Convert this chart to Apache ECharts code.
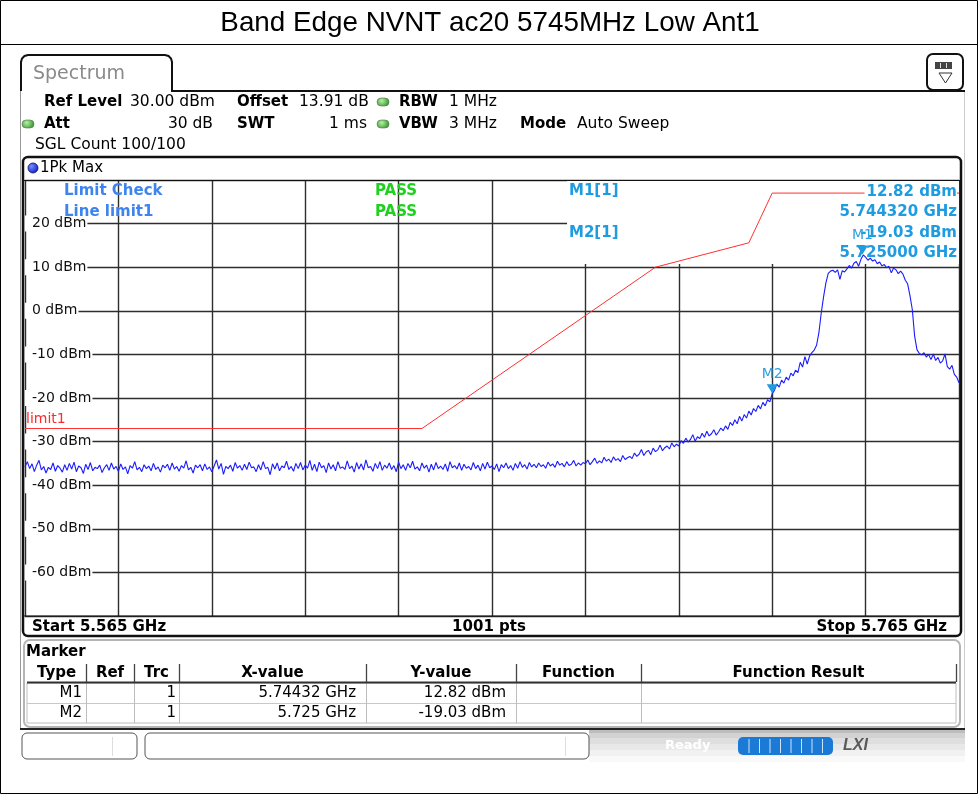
<!DOCTYPE html>
<html><head><meta charset="utf-8">
<script src="https://cdn.jsdelivr.net/npm/echarts@6/dist/echarts.min.js"></script>
<style>html,body{margin:0;padding:0;background:#fff}#c{width:978px;height:794px}</style>
</head><body><div id="c"></div>
<script>
// ---------------- data ----------------
const titleText = 'Band Edge NVNT ac20 5745MHz Low Ant1';
const startMHz = 5565, stopMHz = 5765, sweepStepMHz = 0.5;
const yMin = -70, yMax = 30, yStep = 10;
const traceValues = [
-35.8,-34.6,-36.2,-35.1,-36.9,-35.4,-34.3,-36.5,-35.7,-37.2,-35.9,-36.4,-34.9,-36.8,-35.5,-36.1,-37.0,-35.3,-36.6,-35.0,
-36.3,-34.7,-36.9,-35.6,-36.0,-37.3,-35.2,-36.4,-34.8,-36.7,-35.9,-36.2,-35.4,-37.1,-36.0,-35.3,-36.6,-34.9,-36.3,-35.7,
-36.8,-35.1,-36.4,-35.8,-37.4,-35.5,-36.1,-34.6,-36.5,-35.9,-36.9,-35.3,-36.2,-35.6,-36.7,-35.0,-36.4,-35.8,-37.0,-35.4,
-36.0,-35.2,-36.6,-34.9,-36.3,-35.7,-36.8,-35.5,-36.1,-34.4,-36.5,-35.9,-37.2,-35.4,-36.0,-35.3,-36.7,-35.1,-36.4,-35.8,
-36.9,-35.6,-34.2,-36.3,-35.0,-37.5,-35.7,-36.2,-35.4,-36.8,-34.8,-36.1,-35.5,-36.6,-35.2,-36.4,-34.7,-36.0,-35.8,-36.9,
-35.3,-36.5,-34.6,-36.2,-35.9,-37.6,-35.1,-36.3,-34.9,-36.7,-35.6,-36.0,-34.5,-36.4,-35.7,-36.8,-35.0,-36.2,-34.8,-36.5,
-35.4,-36.1,-34.3,-36.6,-35.2,-36.9,-34.7,-36.0,-35.5,-37.1,-34.9,-36.3,-35.3,-36.7,-34.6,-36.1,-35.8,-36.4,-34.4,-36.2,
-35.6,-37.0,-34.8,-36.3,-35.1,-36.5,-34.2,-36.0,-35.7,-36.8,-35.0,-36.2,-34.6,-36.6,-35.4,-36.1,-34.9,-36.4,-35.5,-36.9,
-34.7,-36.2,-35.3,-36.6,-35.0,-36.0,-34.5,-36.3,-35.8,-36.7,-34.9,-36.1,-35.4,-37.0,-35.2,-36.5,-34.8,-36.2,-35.6,-36.4,
-35.1,-36.8,-34.6,-36.0,-35.5,-36.3,-34.9,-36.6,-35.2,-36.1,-35.7,-36.5,-34.8,-36.2,-35.4,-36.7,-35.0,-36.3,-34.7,-36.0,
-35.6,-36.4,-35.1,-36.9,-35.3,-36.0,-34.9,-36.2,-35.5,-36.6,-35.0,-36.1,-34.6,-35.9,-35.3,-36.3,-34.8,-35.8,-35.2,-36.0,
-34.9,-35.7,-35.3,-36.1,-34.7,-35.6,-35.1,-35.9,-34.5,-35.4,-35.0,-35.8,-34.6,-35.5,-35.2,-34.3,-35.6,-34.9,-35.4,-34.8,
-35.1,-34.2,-35.3,-34.6,-33.8,-35.0,-34.4,-34.9,-33.6,-34.5,-34.0,-34.8,-33.5,-34.3,-33.9,-34.6,-33.2,-34.1,-33.7,-33.4,
-33.9,-32.6,-33.4,-32.9,-31.8,-33.2,-32.4,-32.0,-33.0,-31.5,-32.3,-31.9,-30.8,-32.1,-31.4,-31.0,-31.7,-30.3,-31.2,-30.6,
-31.0,-29.8,-30.4,-29.2,-30.1,-29.5,-28.4,-29.9,-28.9,-29.3,-28.1,-29.0,-27.6,-28.7,-28.2,-27.3,-28.5,-27.8,-26.9,-27.5,
-26.4,-27.2,-25.6,-26.3,-25.0,-25.9,-24.2,-25.3,-23.8,-24.6,-23.0,-23.9,-22.4,-23.1,-21.7,-22.5,-21.0,-21.8,-20.4,-20.9,
-19.03,-18.2,-16.8,-17.5,-15.9,-16.6,-15.2,-15.9,-14.3,-14.9,-13.6,-14.2,-11.8,-12.9,-10.5,-12.2,-10.4,-9.6,-9.0,-7.9,
-5.0,-0.5,3.2,6.4,8.6,9.1,9.3,8.8,9.4,7.2,9.2,8.9,9.6,10.4,9.8,10.9,11.3,10.2,11.8,12.82,
12.3,11.6,12.1,11.4,11.7,10.8,11.2,10.3,10.6,9.9,10.2,8.7,9.8,9.4,8.5,9.1,8.4,7.0,6.2,3.5,
0.3,-5.8,-8.9,-9.8,-10.1,-9.6,-10.6,-10.0,-11.2,-9.9,-11.4,-10.7,-12.0,-11.5,-9.9,-12.8,-13.4,-12.5,-14.6,-15.2,
-16.5
];
const limitFreqs = [5565, 5650, 5700, 5720, 5725, 5765];
const limitValues = [-27, -27, 10, 15.6, 27, 27];
const markerNames = ['M1', 'M2'];
const markerFreqs = [5744.32, 5725];
const markerLevels = [12.82, -19.03];
const markerXText = ['5.74432 GHz', '5.725 GHz'];
const markerYText = ['12.82 dBm', '-19.03 dBm'];
const tableHeaders = ['Type', 'Ref', 'Trc', 'X-value', 'Y-value', 'Function', 'Function Result'];

// ---------------- build ----------------
const tracePairs = traceValues.map((v, i) => [startMHz + i * sweepStepMHz, v]);
const limitPairs = limitFreqs.map((f, i) => [f, limitValues[i]]);

const FONT = '"DejaVu Sans", Verdana, sans-serif';
const G = [];
function txt(x, y, s, o = {}) {
  const st = {
    text: s, fill: o.c || '#000',
    font: (o.i ? 'italic ' : '') + (o.b ? 'bold ' : '') + (o.s || 15) + 'px ' + (o.f || FONT),
    align: o.a || 'left', verticalAlign: 'middle', textAlign: o.a || 'left', textVerticalAlign: 'middle'
  };
  if (o.bg) { st.backgroundColor = o.bg; st.padding = o.pad || [0, 0, 0, 0]; }
  G.push({ type: 'text', x: x, y: y, z: o.z != null ? o.z : 5, style: st });
}
function line(x1, y1, x2, y2, c, w, z) {
  G.push({ type: 'line', z: z != null ? z : 4, shape: { x1, y1, x2, y2 }, style: { stroke: c, lineWidth: w } });
}
function rect(x, y, w, h, o) {
  G.push({ type: 'rect', z: o.z != null ? o.z : 0, shape: { x, y, width: w, height: h, r: o.r || 0 },
    style: { fill: o.fill || 'none', stroke: o.stroke || null, lineWidth: o.lw || 1 } });
}
function dot(cx, cy, fill) {
  G.push({ type: 'rect', z: 5, shape: { x: cx - 6, y: cy - 4, width: 12, height: 8, r: 4 },
    style: { fill: fill, stroke: '#4a7a40', lineWidth: 0.6 } });
}

// page frame and title
rect(0.5, 0.5, 977, 793, { stroke: '#000', lw: 1 });
line(0, 44.5, 978, 44.5, '#000', 1);
txt(490, 23, titleText, { s: 27.8, a: 'center', f: '"Liberation Sans", Arial, sans-serif' });

// instrument frame
G.push({ type: 'polyline', z: 4, shape: { points: [[21, 91], [21, 62], [22, 58.5], [24.5, 56], [28, 55], [165, 55], [168.5, 56], [171, 58.5], [172, 62], [172, 91], [965, 91]] },
  style: { fill: 'none', stroke: '#111', lineWidth: 2 } });
txt(33, 74, 'Spectrum', { c: '#8a8a8a', s: 19 });
rect(927, 54, 36, 36, { r: 6, stroke: '#111', lw: 2, z: 4 });
rect(935, 62, 17, 7, { fill: '#444', z: 5 });
line(940.5, 63, 940.5, 68, '#ddd', 1, 6); line(946.5, 63, 946.5, 68, '#ddd', 1, 6);
G.push({ type: 'polygon', z: 5, shape: { points: [[939, 73], [952, 73], [945.5, 83]] }, style: { fill: 'none', stroke: '#333', lineWidth: 1 } });
line(20.5, 91, 20.5, 729, '#999', 1, 3);
line(964.5, 91, 964.5, 729, '#ccc', 1, 3);
line(20, 729, 965, 729, '#222', 2, 4);

// settings header
const green = new echarts.graphic.RadialGradient(0.4, 0.35, 0.8, [{ offset: 0, color: '#b6f0a8' }, { offset: 1, color: '#3f9b35' }]);
const HS = 15.5, HB = 15;
txt(44, 102, 'Ref Level', { b: true, s: HB }); txt(130, 102, '30.00 dBm', { s: HS });
txt(237, 102, 'Offset', { b: true, s: HB }); txt(299, 102, '13.91 dB', { s: HS });
dot(383, 102, green); txt(399, 102, 'RBW', { b: true, s: HB }); txt(449, 102, '1 MHz', { s: HS });
dot(28, 124, green); txt(44, 124, 'Att', { b: true, s: HB }); txt(213, 124, '30 dB', { a: 'right', s: HS });
txt(237, 124, 'SWT', { b: true, s: HB }); txt(367, 124, '1 ms', { a: 'right', s: HS });
dot(383, 124, green); txt(399, 124, 'VBW', { b: true, s: HB }); txt(449, 124, '3 MHz', { s: HS });
txt(520, 124, 'Mode', { b: true, s: HB }); txt(577, 124, 'Auto Sweep', { s: HS });
txt(35, 145, 'SGL Count 100/100', { s: HS });

// diagram box
rect(23, 157, 938, 479, { r: 5, stroke: '#111', lw: 2.5, z: 4 });
G.push({ type: 'circle', z: 5, shape: { cx: 33, cy: 168, r: 5 },
  style: { fill: new echarts.graphic.RadialGradient(0.35, 0.35, 0.7, [{ offset: 0, color: '#7a8cff' }, { offset: 1, color: '#0b1fc8' }]), stroke: '#06106a', lineWidth: 0.8 } });
txt(40, 168, '1Pk Max', { s: 15 });
line(24, 180.5, 960, 180.5, '#111', 1.2, 4);
line(24, 616, 960, 616, '#111', 1.2, 4);
txt(32, 627, 'Start 5.565 GHz', { b: true });
txt(489, 627, '1001 pts', { b: true, a: 'center' });
txt(947, 627, 'Stop 5.765 GHz', { b: true, a: 'right' });

// marker info box (behind the traces, above the grid)
rect(567, 181, 392, 83, { fill: '#fff', z: 1 });
const blueTxt = '#3d84ee', passTxt = '#1fd01f', mkTxt = '#1f9be0';
txt(64, 191, 'Limit Check', { b: true, c: blueTxt });
txt(64, 212, 'Line limit1', { b: true, c: blueTxt });
txt(375, 191, 'PASS', { b: true, c: passTxt });
txt(375, 212, 'PASS', { b: true, c: passTxt });
txt(569, 191, 'M1[1]', { b: true, c: mkTxt });
txt(569, 233, 'M2[1]', { b: true, c: mkTxt });
txt(957, 192, markerYText[0], { b: true, c: mkTxt, a: 'right', bg: '#fff', pad: [1, 0, 1, 2] });
txt(957, 212, '5.744320 GHz', { b: true, c: mkTxt, a: 'right' });
txt(957, 233, markerYText[1], { b: true, c: mkTxt, a: 'right', z: 1.5 });
txt(957, 253, '5.725000 GHz', { b: true, c: mkTxt, a: 'right', z: 1.5 });
txt(26, 419, 'limit1', { c: '#ff2a2a', s: 14 });

// marker table panel
rect(24, 640, 936, 87, { r: 6, stroke: '#b5b5b5', lw: 2, fill: '#fff', z: 3 });
txt(26, 652, 'Marker', { b: true });
const colX = [27, 86, 134, 179, 366, 516, 641, 956];
rect(27, 683, 929, 40, { stroke: '#bdbdbd', lw: 1, z: 4 });
line(27, 703.5, 956, 703.5, '#c8c8c8', 1, 4);
line(27, 682.5, 956, 682.5, '#333', 2, 5);
for (let i = 1; i < colX.length - 1; i++) {
  line(colX[i] + 0.5, 664, colX[i] + 0.5, 682, '#444', 1.3, 5);
  line(colX[i] + 0.5, 683, colX[i] + 0.5, 723, '#bdbdbd', 1, 4);
}
line(956.5, 664, 956.5, 682, '#444', 1.3, 5);
tableHeaders.forEach((h, i) => txt((colX[i] + colX[i + 1]) / 2, 673, h, { b: true, a: 'center' }));
markerNames.forEach((m, r) => {
  const y = 693 + r * 20;
  txt(82, y, m, { a: 'right' });
  txt(176, y, '1', { a: 'right' });
  txt(356, y, markerXText[r], { a: 'right' });
  txt(506, y, markerYText[r], { a: 'right' });
});

// status bar
rect(22, 733, 115, 26, { r: 5, stroke: '#555', lw: 1, fill: '#fff', z: 4 });
line(112.5, 737, 112.5, 756, '#ddd', 1, 5);
rect(145, 733, 444, 26, { r: 5, stroke: '#555', lw: 1, fill: '#fff', z: 4 });
line(565.5, 737, 565.5, 756, '#ddd', 1, 5);
[['#bcbcbc', 730, 3], ['#d2d2d2', 733, 5], ['#dedede', 738, 6], ['#e8e8e8', 744, 6], ['#f1f1f1', 750, 6], ['#f9f9f9', 756, 6]]
  .forEach(b => rect(589, b[1], 376, b[2], { fill: b[0], z: 3 }));
txt(665, 746, 'Ready', { b: true, c: '#ffffff', s: 13 });
rect(738, 737, 95, 18, { r: 5, fill: '#1a7ad6', z: 5 });
for (let k = 1; k < 9; k++) line(738 + k * 10.5 + 0.5, 739, 738 + k * 10.5 + 0.5, 753, '#cfe3f7', 1, 6);
txt(843, 746, 'LXI', { b: true, i: true, c: '#5a5a5a', s: 16, f: '"Liberation Sans", Arial, sans-serif' });

// ---------------- chart ----------------
const chart = echarts.init(document.getElementById('c'), null, { renderer: 'canvas', width: 978, height: 794 });
chart.setOption({
  animation: false,
  backgroundColor: '#fff',
  grid: { left: 25, top: 180, width: 934, height: 436, containLabel: false, outerBoundsMode: 'none', show: false },
  xAxis: {
    type: 'value', min: startMHz, max: stopMHz, interval: 20,
    axisLine: { show: false }, axisTick: { show: false }, axisLabel: { show: false },
    splitLine: { show: true, lineStyle: { color: '#2e2e2e', width: 1.4 } }
  },
  yAxis: {
    type: 'value', min: yMin, max: yMax, interval: yStep,
    axisLine: { show: false }, axisTick: { show: false },
    splitLine: { show: true, lineStyle: { color: '#2e2e2e', width: 1.4 } },
    axisLabel: {
      inside: true, margin: 0, showMinLabel: false, showMaxLabel: false,
      formatter: v => v + ' dBm', color: '#111', fontSize: 14, fontFamily: 'DejaVu Sans',
      backgroundColor: '#fff', padding: [1, 1, 1, 7]
    }
  },
  graphic: { elements: G },
  series: [
    {
      name: 'limit1', type: 'line', data: limitPairs, showSymbol: false, z: 2,
      lineStyle: { color: '#ff3030', width: 1 }, silent: true
    },
    {
      name: '1Pk Max', type: 'line', data: tracePairs, showSymbol: false, z: 3,
      lineStyle: { color: '#1a1cff', width: 1.1 }, silent: true,
      markPoint: {
        symbol: 'triangle', symbolRotate: 180, symbolSize: [11, 9], symbolOffset: [0, -5],
        itemStyle: { color: '#1f9be0' },
        label: { show: true, position: 'top', distance: 3, color: '#2aa0e0', fontSize: 14, fontFamily: 'DejaVu Sans', formatter: p => p.name },
        data: markerNames.map((n, i) => ({ name: n, coord: [markerFreqs[i], markerLevels[i]] }))
      }
    }
  ]
});
</script>
</body></html>
